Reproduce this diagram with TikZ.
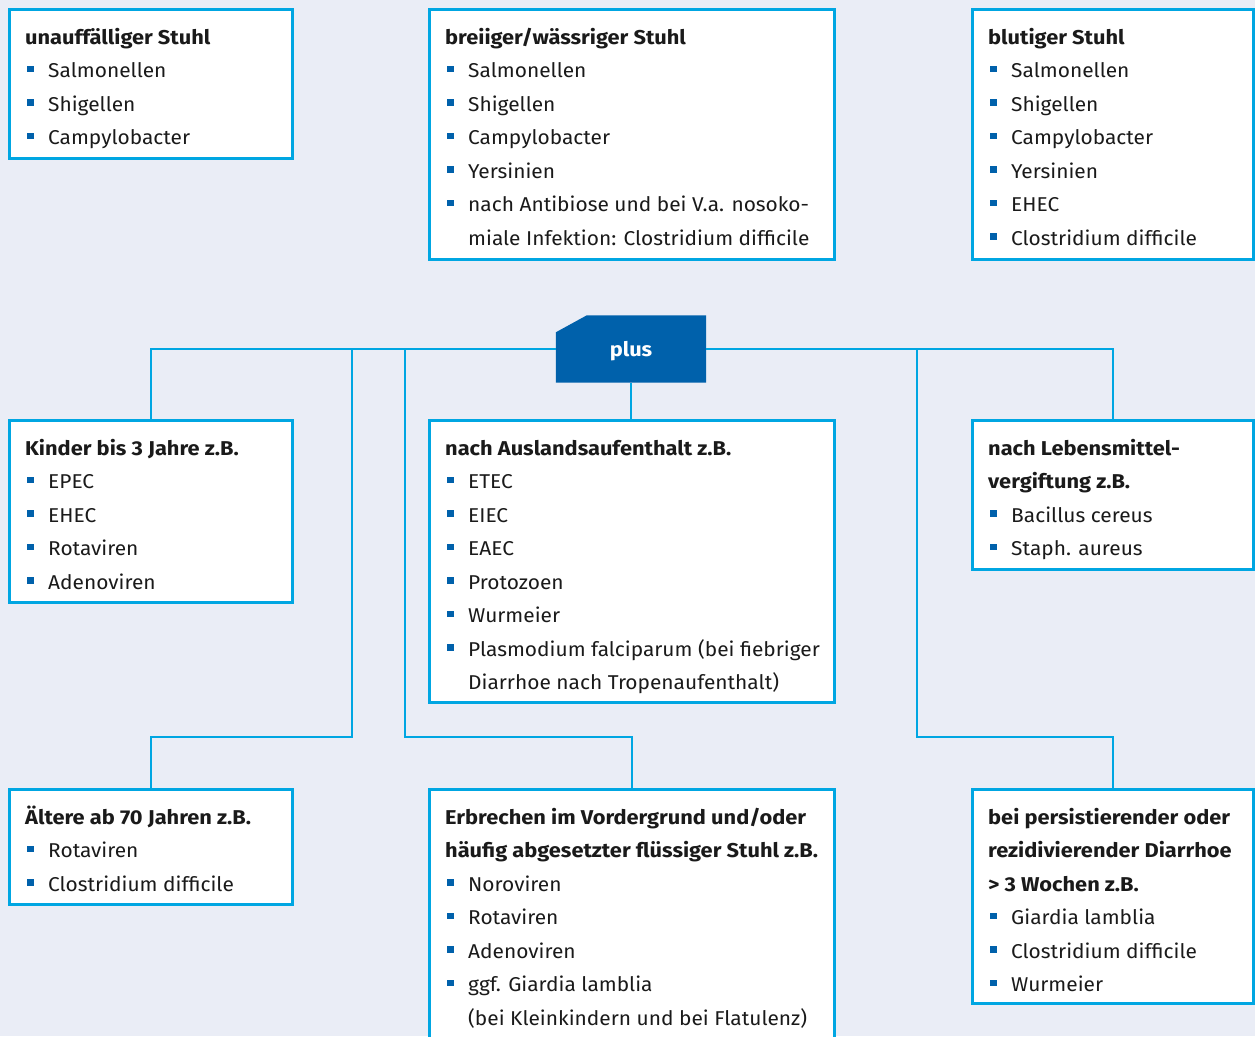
\documentclass[tikz,border=0pt]{standalone}
\usepackage{fontspec}
\setmainfont{Fira Sans}[UprightFeatures={FakeStretch=1.045},BoldFeatures={FakeStretch=1.09}]
\usepackage{tikz}

\definecolor{rahmen}{HTML}{00A6E2}
\definecolor{dunkel}{HTML}{0061AB}
\definecolor{grund}{HTML}{EAEDF6}
\definecolor{schrift}{HTML}{1A1A1A}

\newcommand\kopf[1]{\rule{0pt}{24pt}\textbf{#1}}
\newcommand\pkt{\makebox[23pt][l]{\hspace*{2pt}\raisebox{5.5pt}{\textcolor{dunkel}{\rule{6.5pt}{6.5pt}}}}}
\newcommand\weiter{\hspace*{23pt}}

\begin{document}
\begin{tikzpicture}[x=1pt,y=-1pt,
	box/.style={draw=rahmen,line width=2.8pt,fill=white,anchor=north west,inner sep=0pt},
	txt/.style={anchor=north west,inner sep=0pt,align=left,text=schrift,font=\fontsize{20pt}{33.5pt}\selectfont},
	link/.style={draw=rahmen,line width=2.6pt}]
		
		\fill[grund] (0,0) rectangle (1255,1036);
		\clip (0,0) rectangle (1255,1036);
		
		% obere Reihe
		\node(1) at (8,8)[box,minimum width=283pt,minimum height=149pt]{};
		\node(2) at (428,8)[box,minimum width=405pt,minimum height=250pt]{};
		\node(3) at (971,8)[box,minimum width=281pt,minimum height=250pt]{};
		
		% mittlere Reihe
		\node(4) at (8,419)[box,minimum width=283pt,minimum height=182pt]{};
		\node(5) at (428,419)[box,minimum width=405pt,minimum height=282pt]{};
		\node(6) at (971,419)[box,minimum width=281pt,minimum height=149pt]{};
		
		% untere Reihe
		\node(7) at (8,788)[box,minimum width=283pt,minimum height=115pt]{};
		\node(8) at (428,788)[box,minimum width=405pt,minimum height=260pt]{};
		\node(9) at (971,788)[box,minimum width=281pt,minimum height=214pt]{};
		
		% plus
		\node(10) at (631,349)[minimum width=150pt,minimum height=67pt,inner sep=0pt]{};
		\fill[dunkel] (10.south west) -- ([yshift=-17pt]10.north west) -- ([xshift=31pt]10.north west) -- (10.north east) -- (10.south east) -- cycle;
		\node(p) at ([yshift=-2pt]10)[text=white,font=\fontsize{20pt}{24pt}\selectfont\bfseries]{plus};
		
		\coordinate(a) at (352,349);
		\coordinate(b) at (405,349);
		\coordinate(c) at (917,349);
		
		\draw[link] (4.north) |- (10.west);
		\draw[link] (6.north) |- (10.east);
		\draw[link] (10.south) -- (10.south |- 5.north);
		\draw[link] (a) -- ++(0,388) -| (7.north);
		\draw[link] (b) -- ++(0,388) -| (8.north);
		\draw[link] (c) -- ++(0,388) -| (9.north);
		
		% Texte
		\node(t1) at ([shift={(17,12)}]1.north west)[txt]{\kopf{unauffälliger Stuhl}\\
			\pkt Salmonellen\\ \pkt Shigellen\\ \pkt Campylobacter};
		\node(t2) at ([shift={(17,12)}]2.north west)[txt]{\kopf{breiiger/wässriger Stuhl}\\
			\pkt Salmonellen\\ \pkt Shigellen\\ \pkt Campylobacter\\ \pkt Yersinien\\
			\pkt nach Antibiose und bei V.a. nosoko-\\ \weiter miale Infektion: Clostridium difficile};
		\node(t3) at ([shift={(17,12)}]3.north west)[txt]{\kopf{blutiger Stuhl}\\
			\pkt Salmonellen\\ \pkt Shigellen\\ \pkt Campylobacter\\ \pkt Yersinien\\ \pkt EHEC\\ \pkt Clostridium difficile};
		\node(t4) at ([shift={(17,12)}]4.north west)[txt]{\kopf{Kinder bis 3 Jahre z.B.}\\
			\pkt EPEC\\ \pkt EHEC\\ \pkt Rotaviren\\ \pkt Adenoviren};
		\node(t5) at ([shift={(17,12)}]5.north west)[txt]{\kopf{nach Auslandsaufenthalt z.B.}\\
			\pkt ETEC\\ \pkt EIEC\\ \pkt EAEC\\ \pkt Protozoen\\ \pkt Wurmeier\\
			\pkt Plasmodium falciparum (bei fiebriger\\ \weiter Diarrhoe nach Tropenaufenthalt)};
		\node(t6) at ([shift={(17,12)}]6.north west)[txt]{\kopf{nach Lebensmittel-}\\ \kopf{vergiftung z.B.}\\
			\pkt Bacillus cereus\\ \pkt Staph. aureus};
		\node(t7) at ([shift={(17,12)}]7.north west)[txt]{\kopf{Ältere ab 70 Jahren z.B.}\\
			\pkt Rotaviren\\ \pkt Clostridium difficile};
		\node(t8) at ([shift={(17,12)}]8.north west)[txt]{\kopf{Erbrechen im Vordergrund und/oder}\\ \kopf{häufig abgesetzter flüssiger Stuhl z.B.}\\
			\pkt Noroviren\\ \pkt Rotaviren\\ \pkt Adenoviren\\
			\pkt ggf. Giardia lamblia\\ \weiter (bei Kleinkindern und bei Flatulenz)};
		\node(t9) at ([shift={(17,12)}]9.north west)[txt]{\kopf{bei persistierender oder}\\ \kopf{rezidivierender Diarrhoe}\\ \kopf{> 3 Wochen z.B.}\\
			\pkt Giardia lamblia\\ \pkt Clostridium difficile\\ \pkt Wurmeier};
		
	\end{tikzpicture}
\end{document}
